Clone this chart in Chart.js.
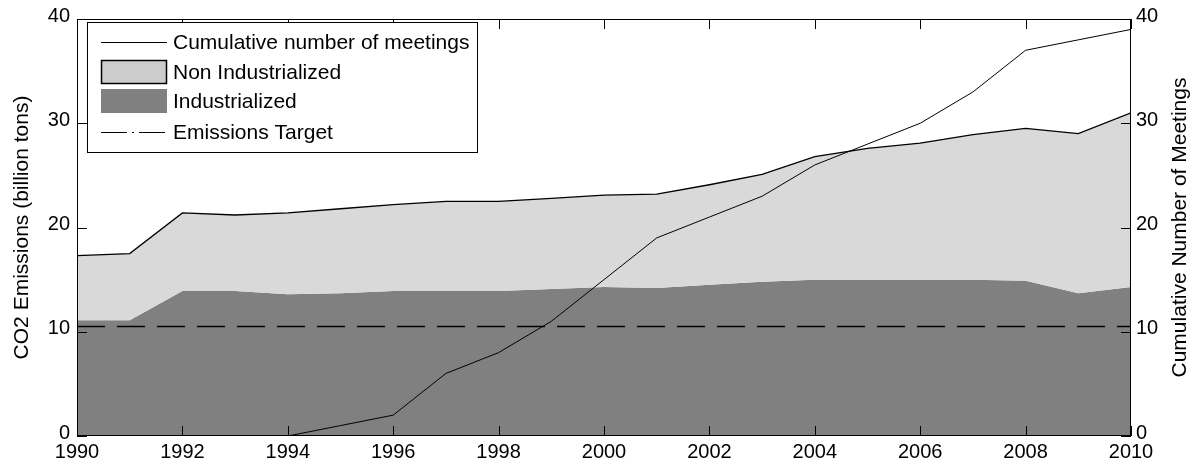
<!DOCTYPE html>
<html>
<head>
<meta charset="utf-8">
<script src="https://cdn.jsdelivr.net/npm/chart.js@4.4.0/dist/chart.umd.min.js"></script>
<style>
  html, body { margin: 0; padding: 0; background: #fff; }
  #wrap { width: 1197px; height: 466px; }
</style>
</head>
<body>
<div id="wrap"><canvas id="co2"></canvas></div>
<script>
// values
const years = [1990, 1991, 1992, 1993, 1994, 1995, 1996, 1997, 1998, 1999, 2000,
               2001, 2002, 2003, 2004, 2005, 2006, 2007, 2008, 2009, 2010];
const industrialized = [11.1, 11.1, 13.9, 13.9, 13.6, 13.7, 13.9, 13.9, 13.9, 14.1, 14.3,
                        14.2, 14.5, 14.8, 15.0, 15.0, 15.0, 15.0, 14.9, 13.7, 14.3];
const nonIndustrialized = [6.2, 6.4, 7.5, 7.3, 7.8, 8.1, 8.3, 8.6, 8.6, 8.7, 8.8,
                           9.0, 9.6, 10.3, 11.8, 12.6, 13.1, 13.9, 14.6, 15.3, 16.7];
const meetingYears = [1994, 1995, 1996, 1997, 1998, 1999, 2000, 2001, 2002,
                      2003, 2004, 2005, 2006, 2007, 2008, 2009, 2010];
const meetings = [0, 1, 2, 6, 8, 11, 15, 19, 21, 23, 26, 28, 30, 33, 37, 38, 39];
const targetYears = [1990, 2010];
const emissionsTarget = [10.5, 10.5];
const xTicks = [1990, 1992, 1994, 1996, 1998, 2000, 2002, 2004, 2006, 2008, 2010];
const yTicks = [0, 10, 20, 30, 40];
const rightTitle = 'Cumulative Number of Meetings';

const totals = industrialized.map((v, i) => v + nonIndustrialized[i]);
const pts = (xs, ys) => xs.map((x, i) => ({ x: x, y: ys[i] }));

const FONT = '"Liberation Sans", Arial, sans-serif';

// matlab style box, inward ticks, right title and legend
const boxPlugin = {
  id: 'boxPlugin',
  afterDatasetsDraw(chart) {
    const ctx = chart.ctx;
    const a = chart.chartArea;
    const sx = chart.scales.x, sy = chart.scales.y;
    ctx.save();
    ctx.strokeStyle = '#000';
    ctx.lineWidth = 1;
    ctx.setLineDash([]);
    ctx.strokeRect(a.left + 0.5, a.top + 0.5, a.right - a.left - 1, a.bottom - a.top - 1);
    ctx.beginPath();
    xTicks.forEach(v => {
      const x = Math.round(sx.getPixelForValue(v)) + 0.5;
      ctx.moveTo(x, a.bottom); ctx.lineTo(x, a.bottom - 10);
      ctx.moveTo(x, a.top); ctx.lineTo(x, a.top + 10);
    });
    yTicks.forEach(v => {
      const y = Math.round(sy.getPixelForValue(v)) + 0.5;
      ctx.moveTo(a.left, y); ctx.lineTo(a.left + 10, y);
      ctx.moveTo(a.right, y); ctx.lineTo(a.right - 10, y);
    });
    ctx.stroke();

    // right axis title reads bottom to top, like the left one
    ctx.save();
    ctx.translate(1180, (a.top + a.bottom) / 2);
    ctx.rotate(-Math.PI / 2);
    ctx.font = '21px ' + FONT;
    ctx.fillStyle = '#000';
    ctx.textAlign = 'center';
    ctx.textBaseline = 'middle';
    ctx.fillText(rightTitle, 0, 0);
    ctx.restore();

    // legend
    const ds = chart.data.datasets;
    const bx = 87.5, by = 22.5, bw = 390, bh = 130;
    ctx.fillStyle = '#fff';
    ctx.fillRect(bx, by, bw, bh);
    ctx.strokeRect(bx, by, bw, bh);
    const sx0 = 101, sx1 = 167, tx = 173;
    ctx.font = '21px ' + FONT;
    ctx.textBaseline = 'middle';
    ctx.textAlign = 'left';

    // row 1: meetings line
    ctx.beginPath();
    ctx.moveTo(sx0, 42.5); ctx.lineTo(sx1, 42.5);
    ctx.stroke();
    ctx.fillStyle = '#000';
    ctx.fillText(ds[3].label, tx, 43);

    // row 2: non industrialized
    ctx.fillStyle = '#cccccc';
    ctx.fillRect(sx0, 60, sx1 - sx0, 23);
    ctx.lineWidth = 1.5;
    ctx.strokeRect(sx0 + 0.5, 60.5, sx1 - sx0 - 1, 23);
    ctx.lineWidth = 1;
    ctx.fillStyle = '#000';
    ctx.fillText(ds[1].label, tx, 73);

    // row 3: industrialized
    ctx.fillStyle = ds[0].backgroundColor;
    ctx.fillRect(sx0, 89, sx1 - sx0, 24);
    ctx.fillStyle = '#000';
    ctx.fillText(ds[0].label, tx, 102);

    // row 4: target, dash dot sample
    ctx.beginPath();
    ctx.setLineDash([26, 5, 2, 5]);
    ctx.moveTo(sx0, 132.5); ctx.lineTo(sx1, 132.5);
    ctx.stroke();
    ctx.setLineDash([]);
    ctx.fillText(ds[2].label, tx, 133);
    ctx.restore();
  }
};

new Chart(document.getElementById('co2'), {
  type: 'line',
  data: {
    datasets: [{
      label: 'Industrialized',
      data: pts(years, industrialized),
      backgroundColor: '#808080',
      borderColor: 'rgba(0,0,0,0)',
      borderWidth: 0,
      fill: 'origin',
      order: 3,
      yAxisID: 'y'
    }, {
      label: 'Non Industrialized',
      data: pts(years, totals),
      backgroundColor: '#d9d9d9',
      borderColor: '#000',
      borderWidth: 1.3,
      fill: '-1',
      order: 2,
      yAxisID: 'y'
    }, {
      label: 'Emissions Target',
      data: pts(targetYears, emissionsTarget),
      borderColor: '#000',
      borderWidth: 1.6,
      borderDash: [28, 12],
      fill: false,
      order: 1,
      yAxisID: 'y'
    }, {
      label: 'Cumulative number of meetings',
      data: pts(meetingYears, meetings),
      borderColor: '#000',
      borderWidth: 1,
      fill: false,
      order: 0,
      yAxisID: 'y2'
    }]
  },
  options: {
    responsive: true,
    maintainAspectRatio: false,
    animation: false,
    devicePixelRatio: 1,
    layout: { padding: { top: 18, left: 0, right: 0, bottom: 0 } },
    elements: { point: { radius: 0 }, line: { tension: 0 } },
    plugins: {
      legend: { display: false },
      tooltip: { enabled: false }
    },
    scales: {
      x: {
        type: 'linear',
        min: 1990,
        max: 2010,
        grid: { display: false, drawTicks: false },
        border: { display: false },
        afterBuildTicks: s => { s.ticks = xTicks.map(v => ({ value: v })); },
        afterFit: s => { s.height = 30; },
        ticks: {
          autoSkip: false,
          maxRotation: 0,
          padding: 4,
          color: '#000',
          font: { family: FONT, size: 20 },
          callback: v => String(v)
        }
      },
      y: {
        position: 'left',
        min: 0,
        max: 40,
        grid: { display: false, drawTicks: false },
        border: { display: false },
        afterBuildTicks: s => { s.ticks = yTicks.map(v => ({ value: v })); },
        afterFit: s => { s.width = 77; },
        ticks: {
          padding: 7,
          labelOffset: -3,
          color: '#000',
          font: { family: FONT, size: 20 }
        },
        title: {
          display: true,
          text: 'CO2 Emissions (billion tons)',
          color: '#000',
          font: { family: FONT, size: 21 },
          padding: { top: 10, bottom: 0 }
        }
      },
      y2: {
        position: 'right',
        min: 0,
        max: 40,
        grid: { display: false, drawTicks: false },
        border: { display: false },
        afterBuildTicks: s => { s.ticks = yTicks.map(v => ({ value: v })); },
        afterFit: s => { s.width = 66; },
        ticks: {
          padding: 5,
          labelOffset: -3,
          color: '#000',
          font: { family: FONT, size: 20 }
        }
      }
    }
  },
  plugins: [boxPlugin]
});
</script>
</body>
</html>
